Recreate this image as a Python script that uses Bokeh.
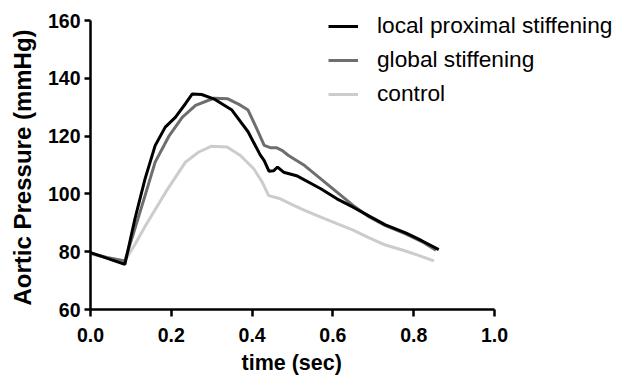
from bokeh.plotting import figure
from bokeh.models import Legend, LegendItem, FixedTicker, NumeralTickFormatter, Title
from bokeh.embed import file_html
from bokeh.resources import INLINE

# ---- data ----
t_local = [0.0, 0.04, 0.085, 0.11, 0.135, 0.16, 0.185, 0.21, 0.235, 0.252, 0.275, 0.305,
           0.35, 0.39, 0.42, 0.43, 0.442, 0.453, 0.463, 0.478, 0.51, 0.57, 0.61, 0.65,
           0.69, 0.73, 0.78, 0.82, 0.862]
p_local = [79.7, 77.8, 75.6, 91.4, 105.2, 116.7, 123.1, 126.5, 131.2, 134.6, 134.4, 132.9,
           129.0, 121.5, 113.5, 111.5, 107.8, 108.0, 109.3, 107.5, 106.3, 101.8, 98.3, 95.4,
           92.3, 89.3, 86.5, 83.8, 80.7]

t_global = [0.0, 0.04, 0.085, 0.11, 0.135, 0.16, 0.195, 0.227, 0.26, 0.305, 0.34, 0.37,
            0.39, 0.41, 0.43, 0.445, 0.46, 0.475, 0.49, 0.53, 0.57, 0.61, 0.65, 0.69,
            0.73, 0.78, 0.82, 0.855]
p_global = [79.5, 78.0, 76.8, 88.0, 99.4, 111.0, 120.2, 126.5, 130.6, 133.1, 132.9, 130.8,
            129.0, 123.0, 116.8, 116.0, 116.0, 115.0, 113.3, 109.8, 105.2, 100.6, 96.0, 92.0,
            89.0, 86.2, 83.5, 80.5]

t_control = [0.0, 0.04, 0.085, 0.11, 0.136, 0.186, 0.235, 0.268, 0.30, 0.338, 0.371, 0.404,
             0.425, 0.441, 0.47, 0.503, 0.53, 0.57, 0.61, 0.65, 0.69, 0.73, 0.776, 0.81, 0.85]
p_control = [79.2, 78.0, 76.8, 82.5, 89.0, 100.6, 111.0, 114.5, 116.5, 116.2, 113.3, 108.7,
             104.1, 99.4, 98.3, 96.0, 94.3, 92.0, 89.7, 87.5, 84.8, 82.3, 80.4, 78.8, 76.8]

series_names = ["local proximal stiffening", "global stiffening", "control"]
x_ticks = [0.0, 0.2, 0.4, 0.6, 0.8, 1.0]
y_ticks = [60, 80, 100, 120, 140, 160]
x_title = "time (sec)"
y_title = "Aortic Pressure (mmHg)"

FONT = "Liberation Sans"

# frame extends to the right and top edges so the legend is not clipped;
# axes are drawn only over 0..1 and 60..160
FRAME_W = 531
X_END = FRAME_W / 404.0
FRAME_H = 309
Y_END = 60 + 100.0 * FRAME_H / 289.0

p = figure(frame_width=FRAME_W, frame_height=FRAME_H,
           x_range=(0, X_END), y_range=(60, Y_END),
           output_backend="svg", toolbar_location=None,
           min_border_left=90, min_border_right=0, min_border_top=0, min_border_bottom=40)
p.outline_line_color = None
p.grid.grid_line_color = None
p.background_fill_color = "white"
p.border_fill_color = "white"

r_local = p.line(t_local, p_local, line_color="#000000", line_width=3)
r_global = p.line(t_global, p_global, line_color="#6e6e6e", line_width=3)
r_control = p.line(t_control, p_control, line_color="#cccccc", line_width=3)
p.renderers = [r_control, r_global, r_local]

for ax in (p.xaxis[0], p.yaxis[0]):
    ax.axis_line_width = 2.5
    ax.major_tick_line_width = 2.5
    ax.minor_tick_line_color = None
    ax.major_tick_in = 0
    ax.major_label_text_font = FONT
    ax.major_label_text_font_style = "bold"
    ax.major_label_text_font_size = "19.5px"
    ax.major_label_text_color = "black"

p.xaxis.ticker = FixedTicker(ticks=x_ticks)
p.xaxis.bounds = (0, 1.0)
p.xaxis.formatter = NumeralTickFormatter(format="0.0")
p.xaxis.major_tick_out = 7
p.xaxis.major_label_standoff = 11

p.yaxis.ticker = FixedTicker(ticks=y_ticks)
p.yaxis.bounds = (60, 160)
p.yaxis.major_tick_out = 6
p.yaxis.major_label_standoff = 4

# axis titles centred on the drawn axis spans
xt = Title(text=x_title, align="left", offset=151, standoff=13, vertical_align="top",
           text_font=FONT, text_font_style="bold", text_font_size="21.5px",
           text_color="black")
p.add_layout(xt, "below")

yt = Title(text=y_title, align="left", offset=4, standoff=15, vertical_align="middle",
           text_font=FONT, text_font_style="bold", text_font_size="24px",
           text_color="black")
p.add_layout(yt, "left")

legend = Legend(items=[LegendItem(label=series_names[0], renderers=[r_local]),
                       LegendItem(label=series_names[1], renderers=[r_global]),
                       LegendItem(label=series_names[2], renderers=[r_control])],
                location=(238, 202))
legend.border_line_color = None
legend.background_fill_alpha = 0
legend.padding = 0
legend.margin = 0
legend.spacing = 7
legend.glyph_width = 30
legend.glyph_height = 24
legend.label_height = 24
legend.label_standoff = 19
legend.label_text_font = FONT
legend.label_text_font_size = "22.7px"
legend.label_text_color = "black"
p.add_layout(legend, "center")

open("out.html", "w").write(file_html(p, INLINE))
